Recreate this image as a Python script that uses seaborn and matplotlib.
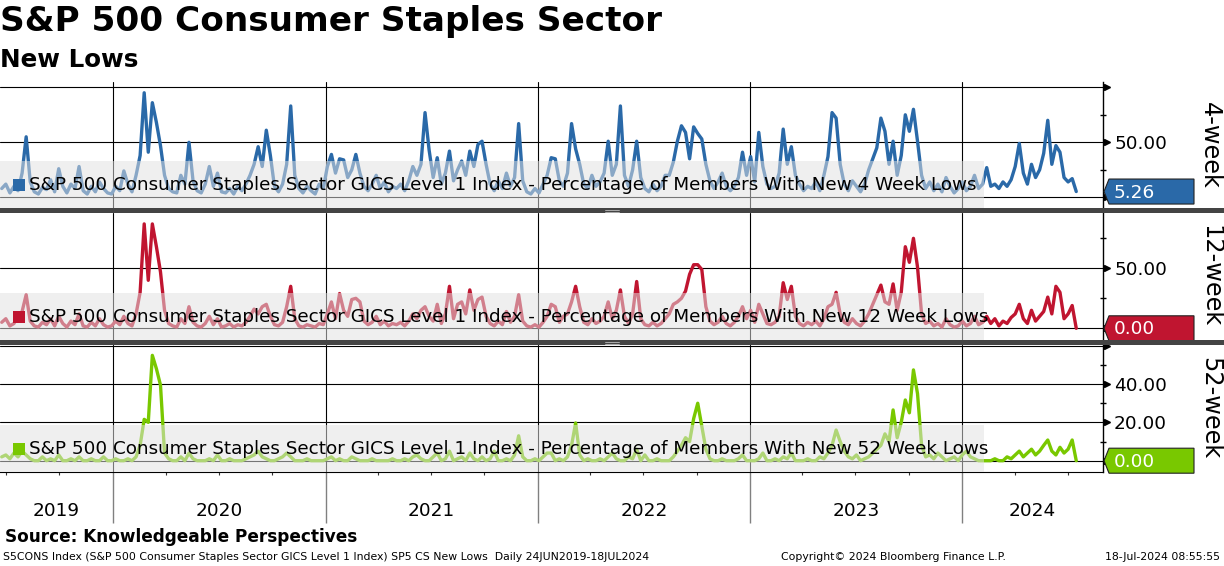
import pandas as pd
import matplotlib
matplotlib.use("Agg")
import matplotlib.pyplot as plt
import matplotlib.dates as mdates
from matplotlib.patches import Rectangle, Polygon
from matplotlib.transforms import offset_copy, blended_transform_factory
from matplotlib.ticker import NullFormatter
import seaborn as sns

# weekly readings, 24 Jun 2019 .. 15 Jul 2024 (percentage of members)
dates = pd.date_range("2019-06-24", periods=265, freq="7D")

pct_4wk = [8, 12, 4, 10, 6, 22, 55, 14, 5, 3,
           9, 7, 16, 5, 26, 10, 4, 12, 8, 28,
           6, 3, 10, 5, 14, 8, 4, 3, 10, 6,
           24, 12, 5, 20, 38, 95, 41, 86, 68, 47,
           20, 8, 5, 4, 20, 12, 50, 15, 6, 4,
           12, 28, 10, 22, 5, 4, 8, 3, 10, 6,
           12, 20, 30, 46, 28, 61, 38, 10, 5, 12,
           30, 83, 20, 8, 4, 10, 6, 3, 12, 8,
           28, 39, 22, 35, 34, 18, 25, 39, 22, 10,
           6, 12, 20, 8, 14, 5, 10, 8, 12, 6,
           15, 28, 20, 30, 77, 43, 18, 36, 12, 22,
           42, 15, 25, 33, 20, 42, 28, 48, 51, 30,
           12, 6, 15, 8, 22, 10, 18, 67, 15, 5,
           3, 8, 4, 12, 20, 36, 35, 15, 10, 22,
           67, 44, 30, 12, 8, 20, 10, 14, 22, 51,
           20, 30, 83, 20, 10, 25, 51, 18, 8, 5,
           12, 6, 10, 20, 20, 32, 51, 65, 59, 35,
           64, 58, 53, 30, 15, 8, 14, 22, 10, 6,
           10, 18, 41, 20, 37, 14, 59, 28, 12, 8,
           10, 22, 62, 30, 46, 20, 12, 6, 10, 8,
           14, 6, 20, 37, 77, 72, 30, 12, 6, 15,
           10, 5, 12, 25, 35, 45, 72, 60, 30, 51,
           20, 38, 75, 60, 80, 51, 20, 8, 14, 6,
           12, 5, 18, 10, 4, 8, 14, 6, 10, 20,
           8, 12, 27, 10, 12, 8, 14, 10, 16, 28,
           49, 22, 12, 30, 18, 25, 40, 70, 30, 47,
           41, 18, 14, 17, 5.26]

pct_12wk = [5, 8, 2, 4, 10, 14, 28, 6, 2, 1,
            5, 3, 8, 2, 10, 4, 1, 6, 3, 12,
            2, 1, 5, 2, 8, 3, 1, 2, 6, 3,
            10, 4, 2, 12, 30, 87, 40, 87, 68, 47,
            15, 4, 2, 1, 8, 4, 18, 5, 2, 1,
            4, 10, 3, 8, 1, 2, 4, 1, 3, 2,
            5, 10, 16, 12, 18, 20, 10, 3, 2, 5,
            18, 35, 8, 2, 1, 3, 2, 1, 4, 3,
            12, 22, 8, 29, 15, 10, 24, 25, 22, 6,
            3, 5, 10, 3, 6, 2, 4, 3, 5, 2,
            6, 12, 8, 15, 18, 10, 6, 20, 4, 12,
            35, 8, 20, 22, 12, 32, 15, 24, 26, 10,
            4, 2, 6, 3, 14, 5, 10, 28, 6, 2,
            1, 3, 1, 5, 10, 20, 18, 5, 10, 12,
            22, 35, 18, 5, 3, 8, 4, 6, 10, 22,
            8, 15, 32, 10, 4, 12, 39, 8, 3, 2,
            5, 2, 4, 8, 12, 20, 22, 25, 31, 45,
            53, 53, 49, 18, 6, 3, 5, 10, 4, 2,
            5, 10, 18, 8, 15, 5, 20, 12, 4, 3,
            5, 10, 38, 24, 35, 10, 4, 2, 5, 3,
            6, 2, 8, 18, 20, 30, 12, 5, 3, 8,
            4, 2, 6, 12, 20, 28, 36, 22, 20, 37,
            15, 30, 68, 55, 75, 51, 12, 4, 6, 2,
            4, 1, 8, 3, 1, 2, 6, 2, 4, 10,
            3, 5, 10, 4, 8, 2, 6, 4, 9, 12,
            20, 8, 4, 15, 6, 10, 14, 26, 12, 35,
            30, 8, 12, 19, 0]

pct_52wk = [2, 3, 1, 4, 2, 5, 3, 1, 0, 0,
            2, 0, 1, 0, 3, 0, 0, 1, 0, 2,
            0, 0, 1, 0, 0, 2, 0, 0, 1, 0,
            0, 1, 0, 2, 8, 21.6, 20, 55, 48, 39.5,
            4, 1, 0, 0, 2, 0, 4, 1, 0, 0,
            0, 1, 0, 3, 0, 0, 1, 0, 0, 0,
            1, 2, 3, 5, 2, 1, 0, 0, 1, 2,
            4, 2, 0, 0, 0, 1, 0, 0, 0, 0,
            1, 2, 0, 1, 0, 0, 2, 1, 0, 0,
            0, 1, 0, 0, 0, 0, 1, 0, 0, 1,
            0, 2, 3, 1, 0, 0, 2, 4, 0, 1,
            5, 0, 1, 2, 0, 4, 1, 0, 2, 0,
            1, 5, 0, 0, 1, 0, 3, 13, 2, 0,
            0, 1, 0, 2, 4, 4, 0, 1, 0, 2,
            8, 19.7, 3, 0, 1, 0, 0, 1, 0, 2,
            4, 1, 0, 0, 2, 1, 6, 0, 3, 0,
            0, 1, 0, 0, 0, 2, 5, 8, 12, 10,
            22, 30, 18, 6, 1, 0, 0, 1, 0, 0,
            0, 1, 3, 0, 0, 0, 1, 4, 0, 0,
            1, 0, 2, 1, 4, 0, 0, 0, 1, 0,
            0, 2, 1, 4, 8, 16, 10, 5, 2, 1,
            3, 0, 1, 2, 4, 6, 8, 14, 10, 26.5,
            12, 20, 31.7, 25, 47.4, 35, 8, 2, 3, 1,
            4, 2, 0, 1, 2, 0, 3, 5, 2, 1,
            0, 0, 0, 0, 1, 0, 0, 2, 1, 3,
            5, 2, 4, 6, 3, 5, 8, 10.8, 5, 3,
            7, 4, 6, 10.8, 0]

last_values = ["5.26", "0.00", "0.00"]
panel_names = ["4-week", "12-week", "52-week"]
legend_names = ["4 Week", "12 Week", "52 Week"]
years = [2019, 2020, 2021, 2022, 2023, 2024]

df = pd.DataFrame({"date": dates, "4wk": pct_4wk, "12wk": pct_12wk, "52wk": pct_52wk})

sns.set_style("white")
plt.rcParams['font.family'] = ['DejaVu Sans']
plt.rcParams['text.color'] = 'black'
plt.rcParams['xtick.color'] = 'black'
plt.rcParams['ytick.color'] = 'black'

W, H = 1224, 566
fig = plt.figure(figsize=(W / 100, H / 100), dpi=100)


def fy(y):
    return 1 - y / H


def panel(top, bottom, share=None):
    return fig.add_axes([0, fy(bottom), 1103 / W, (bottom - top) / H], sharex=share)


ax1 = panel(82, 208)
ax2 = panel(213, 340, ax1)
ax3 = panel(345, 472, ax1)
axes = [ax1, ax2, ax3]

colors = ["#2a69a8", "#c01530", "#79c800"]
cols = ["4wk", "12wk", "52wk"]
ylims = [(-9.7, 104.8), (-9.75, 96.1), (-5.9, 60.4)]
majors = [[0, 50, 100], [0, 50], [0, 20, 40, 60]]
labelled = [[50], [50], [20, 40]]
minors = [[25, 75], [25, 75], [10, 30, 50]]

xmin, xmax = pd.Timestamp("2019-06-21"), pd.Timestamp("2024-08-30")

for ax, col, c, yl, mj, lb, mn, leg in zip(axes, cols, colors, ylims, majors,
                                           labelled, minors, legend_names):
    sns.lineplot(data=df, x="date", y=col, ax=ax, color=c, lw=2.4, zorder=2)
    ax.set_xlim(xmin, xmax)
    ax.set_ylim(*yl)
    ax.set_xlabel("")
    ax.set_ylabel("")
    for s in ["left", "top", "bottom"]:
        ax.spines[s].set_visible(False)
    ax.spines["right"].set_color("black")
    ax.spines["right"].set_linewidth(1)
    # grid
    for v in mj:
        ax.axhline(v, color="black", lw=0.8, zorder=1)
    for yr in years[1:]:
        ax.axvline(pd.Timestamp(f"{yr}-01-01"), color="black", lw=0.8, zorder=1)
    # right axis
    ax.yaxis.tick_right()
    ax.set_yticks(lb)
    ax.set_yticklabels([f"{v:.2f}" for v in lb])
    ax.set_yticks(mn, minor=True)
    ax.tick_params(axis="y", which="major", length=0, pad=8, labelsize=13.3,
                   colors="black")
    ax.tick_params(axis="y", which="minor", right=True, length=4, width=1,
                   direction="inout", color="black")
    arrow_tr = offset_copy(ax.get_yaxis_transform(), fig=fig, x=3.5, y=0, units="dots")
    ax.plot([1] * len(mj), mj, ls="none", marker=">", ms=5, color="black",
            transform=arrow_tr, clip_on=False, zorder=6)
    # legend band
    ax.add_patch(Rectangle((0.0, -0.05), 0.892, 0.42, transform=ax.transAxes,
                           fc="#e2e2e2", ec="none", alpha=0.52, zorder=3))
    ax.add_patch(Rectangle((0.0118, 0.18 - 0.048), 12 / 1103, 0.096,
                           transform=ax.transAxes, fc=c, ec="none", zorder=4))
    ax.text(0.0263, 0.18,
            "S&P 500 Consumer Staples Sector GICS Level 1 Index - "
            f"Percentage of Members With New {leg} Lows",
            transform=ax.transAxes, fontsize=13.25, va="center", color="black",
            zorder=5)

for ax in [ax1, ax2]:
    ax.tick_params(axis="x", which="both", bottom=False, length=0, labelbottom=False)

ax3.spines["bottom"].set_visible(True)
ax3.spines["bottom"].set_color("black")
ax3.xaxis.set_major_locator(mdates.YearLocator())
ax3.xaxis.set_major_formatter(NullFormatter())
ax3.xaxis.set_minor_locator(mdates.MonthLocator(bymonth=[1, 4, 7, 10]))
ax3.xaxis.set_minor_formatter(NullFormatter())
ax3.tick_params(axis="x", which="major", bottom=True, length=37, width=1,
                color="#808080", direction="out")
ax3.tick_params(axis="x", which="minor", bottom=True, length=2.5, width=0.8,
                color="#333333", direction="out")

# year labels centred in each segment
bounds = [xmin] + [pd.Timestamp(f"{y}-01-01") for y in years[1:]] + [xmax]
ytr = blended_transform_factory(ax3.transData, ax3.transAxes)
for yr, a, b in zip(years, bounds[:-1], bounds[1:]):
    ax3.text(a + (b - a) / 2, -0.31, str(yr), transform=ytr, ha="center",
             va="center", fontsize=13.3, color="black")

# last value tags
inv = fig.transFigure.inverted()
for ax, val, c in zip(axes, last_values, colors):
    xr = ax.transAxes.transform((1, 0))[0]
    yp = ax.transData.transform((mdates.date2num(xmin), float(val)))[1]
    pts = [(xr + 1, yp), (xr + 6, yp + 12.5), (xr + 91, yp + 12.5),
           (xr + 91, yp - 12.5), (xr + 6, yp - 12.5)]
    fig.add_artist(Polygon(inv.transform(pts), closed=True, transform=fig.transFigure,
                           fc=c, ec="#222222", lw=0.8, zorder=7))
    tx, ty = inv.transform((xr + 11, yp - 1))
    fig.text(tx, ty, val, color="white", fontsize=13.3, va="center", zorder=8)

# panel separators
for top in [208, 340]:
    fig.add_artist(Rectangle((0, fy(top + 5)), 1, 5 / H, transform=fig.transFigure,
                             fc="#444444", ec="none", zorder=9))
    for dy in [1.5, 3.5]:
        fig.add_artist(plt.Line2D([605 / W, 619 / W], [fy(top + dy)] * 2,
                                  transform=fig.transFigure, color="#bbbbbb",
                                  lw=0.6, zorder=10))

# side labels
for name, (t, b) in zip(panel_names, [(82, 208), (213, 340), (345, 472)]):
    fig.text(1210 / W, fy((t + b) / 2), name, rotation=270, ha="center",
             va="center", fontsize=17.3, color="black")

fig.text(0, fy(22), "S&P 500 Consumer Staples Sector", fontsize=24.7,
         weight="bold", va="center", color="black")
fig.text(0, fy(60), "New Lows", fontsize=17.7, weight="bold", va="center",
         color="black")
fig.text(5 / W, fy(537), "Source: Knowledgeable Perspectives", fontsize=12.2,
         weight="bold", va="center", color="black")
fig.text(3 / W, fy(557),
         "S5CONS Index (S&P 500 Consumer Staples Sector GICS Level 1 Index) "
         "SP5 CS New Lows  Daily 24JUN2019-18JUL2024",
         fontsize=7.8, va="center", color="black")
fig.text(781 / W, fy(557), "Copyright\u00a9 2024 Bloomberg Finance L.P.",
         fontsize=7.8, va="center", color="black")
fig.text(1220 / W, fy(557), "18-Jul-2024 08:55:55", fontsize=7.8, va="center",
         ha="right", color="black")

fig.savefig("out.png", dpi=100)
